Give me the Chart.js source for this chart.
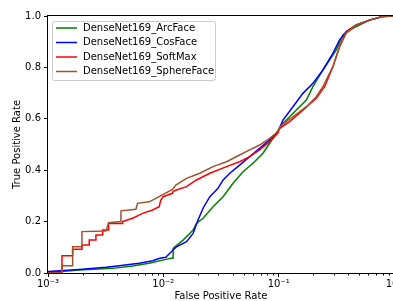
<!DOCTYPE html>
<html>
<head>
<meta charset="utf-8">
<script src="https://cdn.jsdelivr.net/npm/chart.js@4"></script>
<style>
  html, body { margin: 0; padding: 0; background: #fff; overflow: hidden; }
  #wrap { width: 393px; height: 301px; overflow: hidden; position: relative; }
  canvas { display: block; }
</style>
</head>
<body>
<div id="wrap"><canvas id="roc" width="430" height="301" style="width:430px;height:301px"></canvas></div>
<script>
// series (false positive rate / true positive rate)
const seriesNames = ['DenseNet169_ArcFace', 'DenseNet169_CosFace', 'DenseNet169_SoftMax', 'DenseNet169_SphereFace'];

const arcFaceFpr = [1e-3, 1.866e-3, 3.63e-3, 5.41e-3, 7.54e-3, 1.051e-2, 1.161e-2, 1.216e-2, 1.216e-2, 1.483e-2, 1.811e-2, 1.937e-2, 2.21e-2, 2.70e-2, 3.30e-2, 4.02e-2, 4.91e-2, 5.99e-2, 7.31e-2, 8.36e-2, 9.55e-2, 0.109, 0.1423, 0.1737, 0.1982, 0.242, 0.316, 0.3606, 0.4399, 0.6133, 0.795, 1.0];
const arcFaceTpr = [0.002, 0.012, 0.018, 0.027, 0.038, 0.053, 0.057, 0.057, 0.096, 0.128, 0.167, 0.193, 0.213, 0.258, 0.297, 0.349, 0.394, 0.427, 0.466, 0.505, 0.544, 0.582, 0.634, 0.673, 0.725, 0.790, 0.868, 0.926, 0.952, 0.984, 0.998, 1.0];

const cosFaceFpr = [1e-3, 1.866e-3, 3.178e-3, 4.14e-3, 6.17e-3, 8.07e-3, 9.33e-3, 1.051e-2, 1.138e-2, 1.30e-2, 1.589e-2, 1.811e-2, 2.0e-2, 2.21e-2, 2.53e-2, 2.98e-2, 3.30e-2, 3.77e-2, 4.59e-2, 5.61e-2, 6.84e-2, 8.36e-2, 9.86e-2, 0.109, 0.133, 0.1623, 0.1982, 0.242, 0.2953, 0.3375, 0.3855, 0.4707, 0.6133, 0.795, 1.0];
const cosFaceTpr = [0.006, 0.014, 0.022, 0.028, 0.038, 0.048, 0.057, 0.061, 0.077, 0.102, 0.122, 0.154, 0.206, 0.252, 0.297, 0.330, 0.362, 0.388, 0.420, 0.453, 0.485, 0.518, 0.550, 0.595, 0.647, 0.699, 0.738, 0.790, 0.855, 0.907, 0.939, 0.965, 0.984, 0.998, 1.0];

const softMaxFpr = [1e-3, 1.322e-3, 1.322e-3, 1.636e-3, 1.636e-3, 1.970e-3, 1.970e-3, 2.279e-3, 2.279e-3, 2.604e-3, 2.604e-3, 2.976e-3, 2.976e-3, 3.354e-3, 3.354e-3, 4.435e-3, 4.435e-3, 5.41e-3, 6.61e-3, 8.07e-3, 9.20e-3, 9.51e-3, 9.96e-3, 1.201e-2, 1.216e-2, 1.30e-2, 1.589e-2, 1.937e-2, 2.53e-2, 3.53e-2, 4.59e-2, 5.61e-2, 6.84e-2, 8.36e-2, 9.86e-2, 0.1021, 0.1245, 0.1623, 0.212, 0.2502, 0.2953, 0.3375, 0.3855, 0.4707, 0.6133, 0.795, 1.0];
const softMaxTpr = [0.0, 0.0, 0.067, 0.067, 0.092, 0.092, 0.109, 0.109, 0.128, 0.128, 0.148, 0.148, 0.167, 0.167, 0.193, 0.193, 0.200, 0.213, 0.232, 0.245, 0.258, 0.284, 0.297, 0.310, 0.318, 0.323, 0.336, 0.362, 0.388, 0.414, 0.433, 0.453, 0.479, 0.511, 0.544, 0.563, 0.589, 0.634, 0.680, 0.725, 0.803, 0.881, 0.939, 0.965, 0.984, 0.998, 1.0];

const sphereFaceFpr = [1e-3, 1.322e-3, 1.322e-3, 1.636e-3, 1.636e-3, 1.970e-3, 1.970e-3, 3.178e-3, 3.354e-3, 4.29e-3, 4.29e-3, 5.78e-3, 5.98e-3, 7.54e-3, 9.20e-3, 1.20e-2, 1.283e-2, 1.589e-2, 2.07e-2, 2.70e-2, 3.53e-2, 4.59e-2, 5.61e-2, 6.84e-2, 8.36e-2, 9.86e-2, 0.1021, 0.133, 0.1737, 0.212, 0.242, 0.2953, 0.3375, 0.3855, 0.4707, 0.6133, 0.795, 1.0];
const sphereFaceTpr = [0.0, 0.0, 0.028, 0.028, 0.102, 0.102, 0.161, 0.163, 0.196, 0.200, 0.242, 0.248, 0.271, 0.277, 0.297, 0.325, 0.342, 0.368, 0.388, 0.414, 0.433, 0.459, 0.479, 0.498, 0.524, 0.550, 0.569, 0.608, 0.647, 0.686, 0.725, 0.803, 0.881, 0.933, 0.965, 0.984, 0.998, 1.0];

const xMajorTicks = [1e-3, 1e-2, 1e-1, 1];
const xTickLabels = ['10\u207B\u00B3', '10\u207B\u00B2', '10\u207B\u00B9', '10\u2070'];
const yTicks = [0, 0.2, 0.4, 0.6, 0.8, 1.0];

const colors = ['#008000', '#0000ff', '#ff0000', '#a0522d'];

function pts(xs, ys) {
  return xs.map((x, i) => ({ x: x, y: ys[i] }));
}

const FONT = 'DejaVu Sans';
Chart.defaults.font.family = FONT;
Chart.defaults.font.size = 10;
Chart.defaults.color = '#000';

// frame + minor ticks like matplotlib
const framePlugin = {
  id: 'frame',
  afterDraw(chart) {
    const { ctx, chartArea: a } = chart;
    const xs = chart.scales.x;
    ctx.save();
    ctx.strokeStyle = '#000';
    ctx.lineWidth = 1;
    ctx.strokeRect(Math.round(a.left) - 0.5, Math.round(a.top) - 0.5, Math.round(a.right - a.left) + 1, Math.round(a.bottom - a.top) + 1);
    // minor ticks
    for (let k = 0; k < xMajorTicks.length - 1; k++) {
      for (let m = 2; m <= 9; m++) {
        const px = Math.round(xs.getPixelForValue(xMajorTicks[k] * m)) + 0.5;
        ctx.beginPath();
        ctx.moveTo(px, a.bottom);
        ctx.lineTo(px, a.bottom + 2.5);
        ctx.stroke();
      }
    }
    ctx.restore();
  }
};

// legend box in the upper left of the plot
const legendPlugin = {
  id: 'mplLegend',
  afterDraw(chart) {
    const { ctx, chartArea: a } = chart;
    const x0 = a.left + 4, y0 = a.top + 5, w = 163, h = 59;
    ctx.save();
    ctx.fillStyle = 'rgba(255,255,255,0.8)';
    ctx.strokeStyle = '#cccccc';
    ctx.lineWidth = 1;
    ctx.beginPath();
    ctx.roundRect(x0 + 0.5, y0 + 0.5, w, h, 2);
    ctx.fill();
    ctx.stroke();
    ctx.font = '10px "' + FONT + '"';
    ctx.textBaseline = 'middle';
    chart.data.datasets.forEach((ds, i) => {
      const y = y0 + 7 + i * 14.5;
      ctx.strokeStyle = ds.borderColor;
      ctx.lineWidth = 1.5;
      ctx.beginPath();
      ctx.moveTo(x0 + 4, y);
      ctx.lineTo(x0 + 25, y);
      ctx.stroke();
      ctx.fillStyle = '#000';
      ctx.fillText(ds.label, x0 + 31, y);
    });
    ctx.restore();
  }
};

const datasets = [
  pts(arcFaceFpr, arcFaceTpr),
  pts(cosFaceFpr, cosFaceTpr),
  pts(softMaxFpr, softMaxTpr),
  pts(sphereFaceFpr, sphereFaceTpr)
].map((d, i) => ({
  label: seriesNames[i],
  data: d,
  borderColor: colors[i],
  backgroundColor: colors[i],
  borderWidth: 1.5,
  pointRadius: 0,
  tension: 0,
  fill: false,
  order: 3 - i
}));

new Chart(document.getElementById('roc').getContext('2d'), {
  type: 'line',
  data: { datasets: datasets },
  options: {
    responsive: false,
    animation: false,
    devicePixelRatio: 1,
    layout: { padding: { top: 16, right: 36, left: 0, bottom: 0 } },
    plugins: { legend: { display: false }, tooltip: { enabled: false } },
    scales: {
      x: {
        type: 'logarithmic',
        min: 1e-3,
        max: 1,
        afterBuildTicks: s => { s.ticks = xMajorTicks.map(v => ({ value: v, major: true })); },
        afterFit: s => { s.height = 28; },
        ticks: {
          autoSkip: false,
          maxRotation: 0,
          padding: 1,
          callback: (v) => xTickLabels[xMajorTicks.indexOf(v)]
        },
        grid: { drawOnChartArea: false, tickLength: 4, tickColor: '#000' },
        border: { display: false },
        title: { display: true, text: 'False Positive Rate', padding: { top: 0, bottom: 0 }, font: { size: 10, lineHeight: 1.0 } }
      },
      y: {
        type: 'linear',
        min: 0,
        max: 1,
        afterBuildTicks: s => { s.ticks = yTicks.map(v => ({ value: v })); },
        afterFit: s => { s.width = 48; },
        ticks: { padding: 3, callback: v => Number(v).toFixed(1) },
        grid: { drawOnChartArea: false, tickLength: 4, tickColor: '#000' },
        border: { display: false },
        title: { display: true, text: 'True Positive Rate', padding: { top: 11, bottom: 0 }, font: { size: 10, lineHeight: 1.2 } }
      }
    }
  },
  plugins: [framePlugin, legendPlugin]
});
</script>
</body>
</html>
